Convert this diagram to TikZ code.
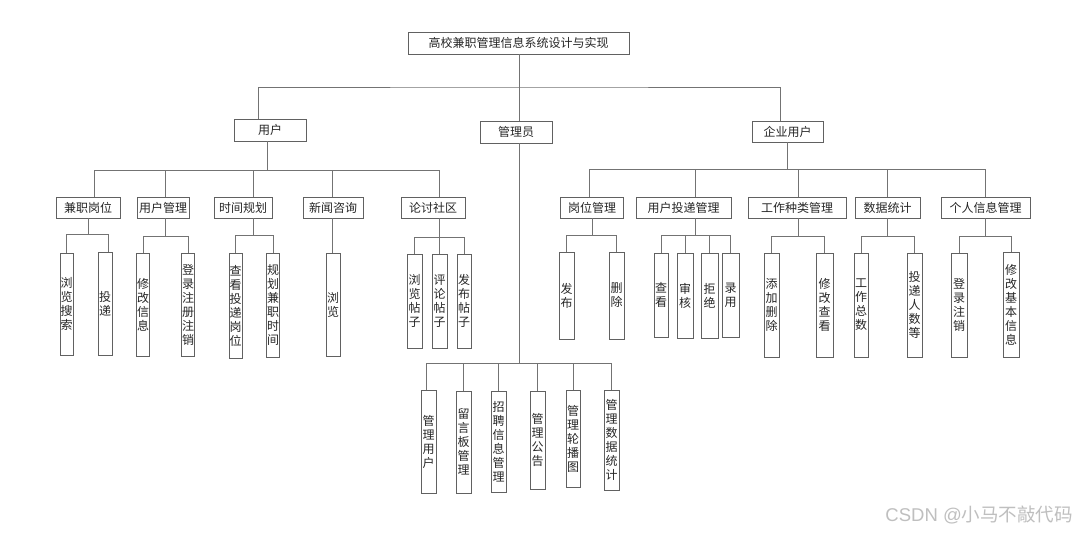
\documentclass[tikz,border=0pt]{standalone}
\usepackage{fontspec}
\newfontfamily\cjk{Noto Sans CJK SC}
\newfontfamily\wmlatin{Liberation Sans}
\begin{document}
\begin{tikzpicture}[x=1pt,y=-1pt,
  conn/.style={draw=black!55,line width=0.9pt},
  hb/.style={draw=black!62,line width=0.9pt,fill=white,inner sep=0pt,minimum height=21pt,
    font=\cjk\fontsize{12}{14}\selectfont,text=black!85},
  vb/.style={draw=black!62,line width=0.9pt,fill=white,inner sep=0pt,align=center,
    font=\cjk\fontsize{12}{14}\selectfont,text=black!85}]
\fill[white] (0,0) rectangle (1080,536);
\useasboundingbox (0,0) rectangle (1080,536);
% level 0 and 1
\node[hb,minimum width=221pt,minimum height=22pt] (top) at (518.5,43) {高校兼职管理信息系统设计与实现};
\node[hb,minimum width=72pt,minimum height=22pt] (user) at (270,130) {用户};
\node[hb,minimum width=72pt,minimum height=22pt] (adm) at (516,132) {管理员};
\node[hb,minimum width=71pt] (corp) at (787.5,131.5) {企业用户};
% level 2 user
\node[hb,minimum width=64pt] (jz) at (88,207.5) {兼职岗位};
\node[hb,minimum width=52pt] (yhgl) at (163,207.5) {用户管理};
\node[hb,minimum width=58pt] (sjgh) at (243,207.5) {时间规划};
\node[hb,minimum width=60pt] (xwzx) at (333,207.5) {新闻咨询};
\node[hb,minimum width=64pt] (ltsq) at (433,207.5) {论讨社区};
% level 2 corp
\node[hb,minimum width=63pt] (gwgl) at (592,207.5) {岗位管理};
\node[hb,minimum width=95pt] (tdgl) at (683.5,207.5) {用户投递管理};
\node[hb,minimum width=98pt] (zlgl) at (797,207.5) {工作种类管理};
\node[hb,minimum width=65pt] (sjtj) at (887.5,207.5) {数据统计};
\node[hb,minimum width=89pt] (grxx) at (985.5,207.5) {个人信息管理};
% level 3 user
\node[vb,minimum width=13pt,minimum height=102pt] (u1) at (66.5,304) {浏\\览\\搜\\索};
\node[vb,minimum width=14pt,minimum height=103pt] (u2) at (105,303.5) {投\\递};
\node[vb,minimum width=13pt,minimum height=103pt] (u3) at (143,304.5) {修\\改\\信\\息};
\node[vb,minimum width=13pt,minimum height=103pt] (u4) at (188,304.5) {登\\录\\注\\册\\注\\销};
\node[vb,minimum width=13pt,minimum height=105pt] (u5) at (235.5,305.5) {查\\看\\投\\递\\岗\\位};
\node[vb,minimum width=13pt,minimum height=104pt] (u6) at (273,305) {规\\划\\兼\\职\\时\\间};
\node[vb,minimum width=14pt,minimum height=103pt] (u7) at (333,304.5) {浏\\览};
\node[vb,minimum width=15pt,minimum height=94pt] (u8) at (414.5,301) {浏\\览\\帖\\子};
\node[vb,minimum width=15pt,minimum height=94pt] (u9) at (439.5,301) {评\\论\\帖\\子};
\node[vb,minimum width=14pt,minimum height=94pt] (u10) at (464,301) {发\\布\\帖\\子};
% level 3 corp
\node[vb,minimum width=15pt,minimum height=87pt] (c1) at (566.5,295.5) {发\\布};
\node[vb,minimum width=15pt,minimum height=87pt] (c2) at (616.5,295.5) {删\\除};
\node[vb,minimum width=14pt,minimum height=84pt] (c3) at (661,295) {查\\看};
\node[vb,minimum width=16pt,minimum height=85pt] (c4) at (685,295.5) {审\\核};
\node[vb,minimum width=17pt,minimum height=85pt] (c5) at (709.5,295.5) {拒\\绝};
\node[vb,minimum width=17pt,minimum height=84pt] (c6) at (730.5,295) {录\\用};
\node[vb,minimum width=15pt,minimum height=104pt] (c7) at (771.5,305) {添\\加\\删\\除};
\node[vb,minimum width=17pt,minimum height=104pt] (c8) at (824.5,305) {修\\改\\查\\看};
\node[vb,minimum width=14pt,minimum height=104pt] (c9) at (861,305) {工\\作\\总\\数};
\node[vb,minimum width=15pt,minimum height=104pt] (c10) at (914.5,305) {投\\递\\人\\数\\等};
\node[vb,minimum width=16pt,minimum height=104pt] (c11) at (959,305) {登\\录\\注\\销};
\node[vb,minimum width=16pt,minimum height=105pt] (c12) at (1011,304.5) {修\\改\\基\\本\\信\\息};
% admin children
\node[vb,minimum width=15pt,minimum height=103pt] (a1) at (428.5,441.5) {管\\理\\用\\户};
\node[vb,minimum width=15pt,minimum height=102pt] (a2) at (463.5,442) {留\\言\\板\\管\\理};
\node[vb,minimum width=15pt,minimum height=101pt] (a3) at (498.5,441.5) {招\\聘\\信\\息\\管\\理};
\node[vb,minimum width=15pt,minimum height=98pt] (a4) at (537.5,440) {管\\理\\公\\告};
\node[vb,minimum width=14pt,minimum height=97pt] (a5) at (573,438.5) {管\\理\\轮\\播\\图};
\node[vb,minimum width=15pt,minimum height=100pt] (a6) at (611.5,440) {管\\理\\数\\据\\统\\计};
% watermark
\node[font=\cjk\fontsize{18.5}{21}\selectfont,text=black!25,anchor=east,inner sep=0pt] (wm) at (1073,515) {{\wmlatin CSDN @}小马不敲代码};
% bus coordinates
\coordinate (b0) at (519,87);
\coordinate (bu) at (267,170);
\coordinate (bc) at (787,169);
\coordinate (ba) at (519,363);
% top level connectors
\draw[conn] ([xshift=0.5pt]top.south) -- ([xshift=0.5pt]top.south |- adm.north);
\draw[conn] ([xshift=-12pt]user.north) |- (b0) -| ([xshift=-7.5pt]corp.north);
% user level 2
\draw[conn] (bu |- user.south) -- (bu);
\draw[conn] ([xshift=6pt]jz.north) |- ([xshift=6pt]ltsq.north |- bu) -- ([xshift=6pt]ltsq.north);
\draw[conn] ([xshift=2pt]yhgl.north) -- ([xshift=2pt]yhgl.north |- bu);
\draw[conn] ([xshift=10pt]sjgh.north) -- ([xshift=10pt]sjgh.north |- bu);
\draw[conn] ([xshift=-1pt]xwzx.north) -- ([xshift=-1pt]xwzx.north |- bu);
% corp level 2
\draw[conn] (bc |- corp.south) -- (bc);
\draw[conn] ([xshift=-3pt]gwgl.north) |- (grxx.north |- bc) -- (grxx.north);
\draw[conn] ([xshift=11.5pt]tdgl.north) -- ([xshift=11.5pt]tdgl.north |- bc);
\draw[conn] ([xshift=1pt]zlgl.north) -- ([xshift=1pt]zlgl.north |- bc);
\draw[conn] (sjtj.north) -- (sjtj.north |- bc);
% user level 3
\draw[conn] (jz.south) -- (jz.south |- 0,234);
\draw[conn] (u1.north) |- ([xshift=3pt]u2.north |- 0,234) -- ([xshift=3pt]u2.north);
\draw[conn] ([xshift=2pt]yhgl.south) -- ([xshift=2pt]yhgl.south |- 0,236);
\draw[conn] (u3.north) |- (u4.north |- 0,236) -- (u4.north);
\draw[conn] ([xshift=10pt]sjgh.south) -- ([xshift=10pt]sjgh.south |- 0,235);
\draw[conn] (u5.north) |- (u6.north |- 0,235) -- (u6.north);
\draw[conn] ([xshift=-1pt]xwzx.south) -- ([xshift=-1pt]xwzx.south |- u7.north);
\draw[conn] ([xshift=6pt]ltsq.south) -- ([xshift=6pt]ltsq.south |- 0,237);
\draw[conn] (u8.north) |- (u10.north |- 0,237) -- (u10.north);
\draw[conn] (u9.north) -- (u9.north |- 0,237);
% corp level 3
\draw[conn] (gwgl.south) -- (gwgl.south |- 0,235);
\draw[conn] (c1.north) |- (c2.north |- 0,235) -- (c2.north);
\draw[conn] ([xshift=11.5pt]tdgl.south) -- ([xshift=11.5pt]tdgl.south |- 0,235);
\draw[conn] (c3.north) |- (c6.north |- 0,235) -- (c6.north);
\draw[conn] (c4.north) -- (c4.north |- 0,235);
\draw[conn] (c5.north) -- (c5.north |- 0,235);
\draw[conn] ([xshift=1pt]zlgl.south) -- ([xshift=1pt]zlgl.south |- 0,236);
\draw[conn] (c7.north) |- (c8.north |- 0,236) -- (c8.north);
\draw[conn] (sjtj.south) -- (sjtj.south |- 0,236);
\draw[conn] (c9.north) |- (c10.north |- 0,236) -- (c10.north);
\draw[conn] (grxx.south) -- (grxx.south |- 0,236);
\draw[conn] (c11.north) |- (c12.north |- 0,236) -- (c12.north);
% admin
\draw[conn] (ba |- adm.south) -- (ba);
\draw[conn] ([xshift=-2.5pt]a1.north) |- (a6.north |- ba) -- (a6.north);
\draw[conn] (a2.north) -- (a2.north |- ba);
\draw[conn] (a3.north) -- (a3.north |- ba);
\draw[conn] (a4.north) -- (a4.north |- ba);
\draw[conn] (a5.north) -- (a5.north |- ba);
\end{tikzpicture}
\end{document}
